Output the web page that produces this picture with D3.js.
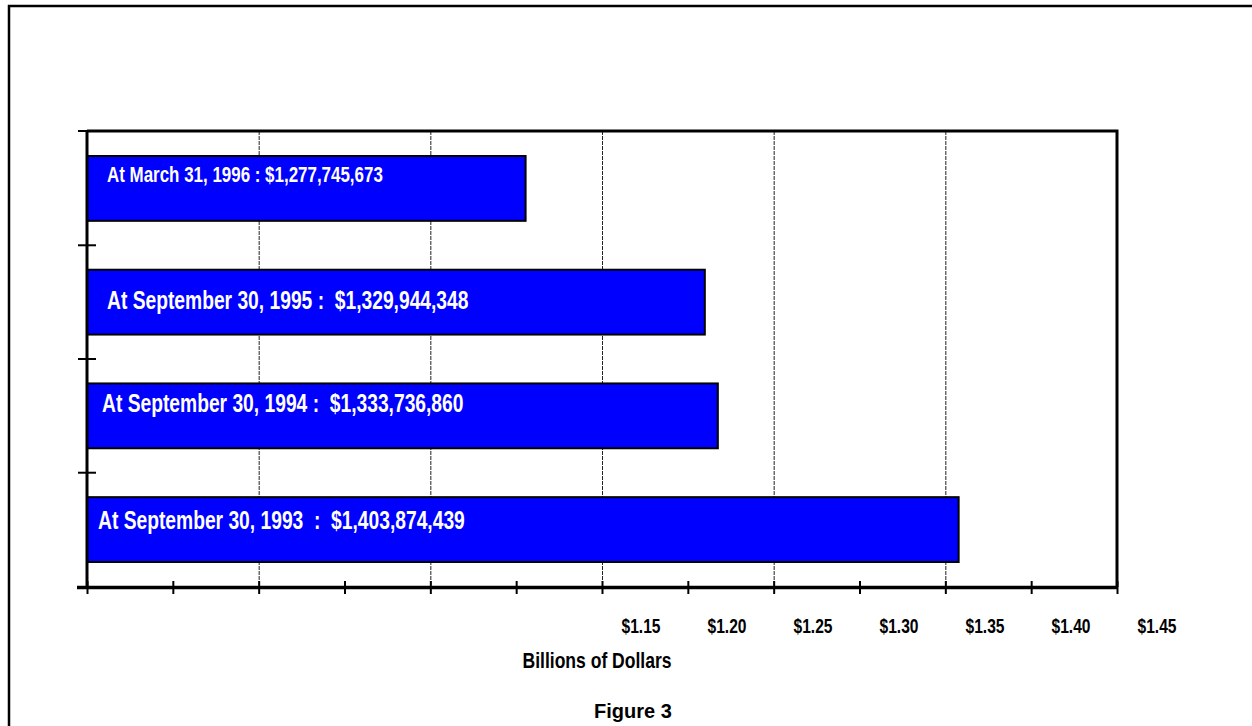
<!DOCTYPE html>
<html>
<head>
<meta charset="utf-8">
<script src="https://cdn.jsdelivr.net/npm/d3@7"></script>
<style>
  body { margin: 0; background: #fff; }
  .narrow { font-family: "Liberation Sans", Arial, sans-serif; font-weight: bold; }
</style>
</head>
<body>
<div id="chart"></div>
<script>
// data
var categories = ["At March 31, 1996", "At September 30, 1995", "At September 30, 1994", "At September 30, 1993"];
var values = [1.277745673, 1.329944348, 1.333736860, 1.403874439];
var barLabels = [
  "At March 31, 1996 : $1,277,745,673",
  "At September 30, 1995 :  $1,329,944,348",
  "At September 30, 1994 :  $1,333,736,860",
  "At September 30, 1993  :  $1,403,874,439"
];
var tickLabels = ["$1.15", "$1.20", "$1.25", "$1.30", "$1.35", "$1.40", "$1.45"];

// label layout (position / size only)
var labelDx = [20, 20, 15, 11];
var labelDy = [26, 39, 29, 32];
var labelSize = [22, 25, 25, 25];
var narrow = 0.78; // horizontal squeeze to mimic a narrow face

var svgWidth = 1252, svgHeight = 726;

var svg = d3.select("#chart")
  .append("svg")
  .attr("width", svgWidth)
  .attr("height", svgHeight);

// outer frame (top + left only)
svg.append("path")
  .attr("d", "M9,727 V6 H1252")
  .attr("fill", "none")
  .attr("stroke", "#000")
  .attr("stroke-width", 2.5);

var plot = { left: 87, right: 1117, top: 131, bottom: 587 };

var x = d3.scaleLinear()
  .domain([1.15, 1.45])
  .range([plot.left, plot.right]);

var y = d3.scaleBand()
  .domain(categories)
  .range([plot.top, plot.bottom])
  .paddingInner(0.43)
  .paddingOuter(0.22);

// dashed gridlines every 0.05
var gridVals = d3.range(1.20, 1.4001, 0.05);
svg.selectAll(".grid")
  .data(gridVals)
  .enter()
  .append("line")
  .attr("x1", d => x(d) + 0.5)
  .attr("x2", d => x(d) + 0.5)
  .attr("y1", plot.top)
  .attr("y2", plot.bottom)
  .attr("stroke", "#222")
  .attr("stroke-width", 1)
  .attr("stroke-dasharray", "4,1");

// bars
svg.selectAll(".bar")
  .data(values)
  .enter()
  .append("rect")
  .attr("x", plot.left)
  .attr("y", (d, i) => y(categories[i]))
  .attr("width", d => x(d) - plot.left)
  .attr("height", y.bandwidth())
  .attr("fill", "#0000ff")
  .attr("stroke", "#000")
  .attr("stroke-width", 2);

// bar labels
svg.selectAll(".barLabel")
  .data(barLabels)
  .enter()
  .append("text")
  .attr("class", "narrow")
  .attr("transform", (d, i) => `translate(${plot.left + labelDx[i]}, ${y(categories[i]) + labelDy[i]}) scale(0.77, 1)`)
  .attr("fill", "#fff")
  .attr("font-size", (d, i) => labelSize[i])
  .style("white-space", "pre")
  .text(d => d);

// plot frame: top and right
svg.append("path")
  .attr("d", `M${plot.left},${plot.top} H${plot.right} V${plot.bottom}`)
  .attr("fill", "none")
  .attr("stroke", "#000")
  .attr("stroke-width", 3);

// left axis line + ticks at band edges
svg.append("line")
  .attr("x1", plot.left).attr("x2", plot.left)
  .attr("y1", plot.top).attr("y2", plot.bottom)
  .attr("stroke", "#000").attr("stroke-width", 3);

var bandEdges = categories.map(c => y(c) - y.step() * y.paddingInner() / 2).concat([plot.bottom]);
bandEdges[0] = plot.top;
svg.selectAll(".ytick")
  .data(bandEdges)
  .enter()
  .append("line")
  .attr("x1", plot.left - 9)
  .attr("x2", (d, i) => i === 0 ? plot.left : plot.left + 9)
  .attr("y1", d => d)
  .attr("y2", d => d)
  .attr("stroke", "#000")
  .attr("stroke-width", 2);

// bottom axis
var bottomAxis = d3.axisBottom(x)
  .tickValues(d3.range(1.15, 1.4501, 0.025))
  .tickSize(7)
  .tickFormat("");

var xAxisG = svg.append("g")
  .attr("transform", `translate(0, ${plot.bottom})`)
  .call(bottomAxis);
xAxisG.select(".domain")
  .attr("stroke-width", 3.5)
  .attr("d", `M${plot.left - 10},0.5H${plot.right}`);
xAxisG.selectAll(".tick line")
  .attr("y1", -6)
  .attr("stroke-width", 2);

// tick labels (drawn offset, as in the source figure)
var labelScale = d3.scalePoint()
  .domain(tickLabels)
  .range([x(1.30) + 39, x(1.45) + 40]);

svg.selectAll(".xlabel")
  .data(tickLabels)
  .enter()
  .append("text")
  .attr("class", "narrow")
  .attr("transform", d => `translate(${labelScale(d)}, 633) scale(${narrow}, 1)`)
  .attr("text-anchor", "middle")
  .attr("font-size", 20)
  .attr("fill", "#000")
  .text(d => d);

// axis title
svg.append("text")
  .attr("class", "narrow")
  .attr("transform", `translate(597, 668) scale(${narrow}, 1)`)
  .attr("text-anchor", "middle")
  .attr("font-size", 22.5)
  .text("Billions of Dollars");

// figure caption
svg.append("text")
  .attr("x", 633)
  .attr("y", 718)
  .attr("text-anchor", "middle")
  .attr("font-family", "Liberation Sans, Arial, sans-serif")
  .attr("font-weight", "bold")
  .attr("font-size", 20)
  .text("Figure 3");
</script>
</body>
</html>
